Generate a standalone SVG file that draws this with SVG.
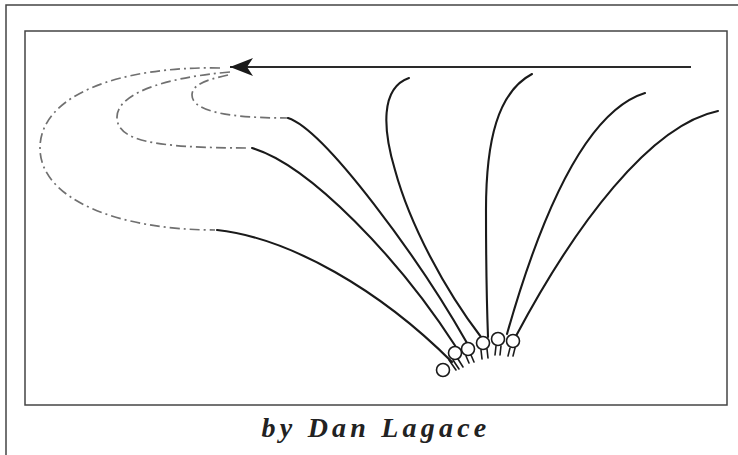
<svg xmlns="http://www.w3.org/2000/svg" width="738" height="455" viewBox="0 0 738 455">
<style>
.frame{fill:none;stroke:#444;stroke-width:1.5}
.path{fill:none;stroke:#1a1a1a;stroke-width:2.1;stroke-linecap:round}
.dash{fill:none;stroke:#707070;stroke-width:1.7;stroke-dasharray:10 4 2 4}
.head{fill:#fff;stroke:#1a1a1a;stroke-width:1.6}
.leg{stroke:#1a1a1a;stroke-width:1.6;stroke-linecap:round}
.title{font-family:"Liberation Serif","Times New Roman",serif;font-weight:bold;font-style:italic;font-size:28px;letter-spacing:4.2px;fill:#222}
</style>
<defs>
<marker id="arrow" markerUnits="userSpaceOnUse" markerWidth="26" markerHeight="20" refX="23" refY="10" orient="auto" viewBox="0 0 26 20">
<path d="M23,10 L0,1 L6,10 L0,19 Z" fill="#1a1a1a"/>
</marker>
</defs>
<rect width="738" height="455" fill="#fff"/>
<g id="frame">
<path class="frame" d="M6,455 L6,5 L738,5"/>
<rect class="frame" x="25" y="31" width="702" height="374"/>
</g>
<g id="connectors">
<path d="M691,67 L230,67" fill="none" stroke="#2a2a2a" stroke-width="2.2" marker-end="url(#arrow)"/>
<path class="dash" d="M220,68 C120,66 40,95 40,148 C40,200 120,230 215,230"/>
<path class="dash" d="M230,72 C160,78 117,95 117,117 C117,140 150,148 250,148"/>
<path class="dash" d="M228,75 C205,80 192,85 192,95 C192,108 215,118 288,118"/>
<path class="path" d="M217,230 C290,238 380,290 452,362"/>
<path class="path" d="M252,148 C310,165 400,260 456,347"/>
<path class="path" d="M288,118 C325,130 420,260 467,343"/>
<path class="path" d="M409,78 C380,88 383,130 395,170 C410,225 445,290 481,337"/>
<path class="path" d="M532,74 C498,92 486,140 486,210 C486,270 487,310 488,337"/>
<path class="path" d="M645,93 C590,110 545,200 507,334"/>
<path class="path" d="M718,111 C650,125 575,225 516,336"/>
</g>
<g id="figure1"><circle class="head" cx="443" cy="370" r="6.5"/><line class="leg" x1="449" y1="360" x2="456" y2="370"/></g>
<g id="figure2"><circle class="head" cx="455" cy="353" r="6.5"/><line class="leg" x1="453" y1="360" x2="459" y2="369"/><line class="leg" x1="458" y1="359" x2="463" y2="367"/></g>
<g id="figure3"><circle class="head" cx="468" cy="349" r="6.5"/><line class="leg" x1="466" y1="356" x2="469" y2="363"/><line class="leg" x1="471" y1="355" x2="474" y2="362"/></g>
<g id="figure4"><circle class="head" cx="483" cy="343" r="6.5"/><line class="leg" x1="481" y1="350" x2="482" y2="359"/><line class="leg" x1="487" y1="349" x2="488" y2="358"/></g>
<g id="figure5"><circle class="head" cx="498" cy="339" r="6.5"/><line class="leg" x1="496" y1="346" x2="495" y2="355"/><line class="leg" x1="501" y1="346" x2="500" y2="355"/></g>
<g id="figure6"><circle class="head" cx="513" cy="341" r="6.5"/><line class="leg" x1="510" y1="348" x2="508" y2="356"/><line class="leg" x1="515" y1="348" x2="513" y2="356"/></g>
<text class="title" x="376" y="437" text-anchor="middle">by Dan Lagace</text>
</svg>
